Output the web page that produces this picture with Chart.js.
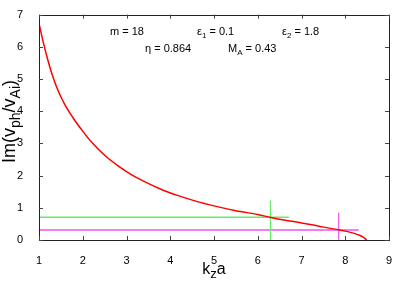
<!DOCTYPE html>
<html>
<head>
<meta charset="utf-8">
<script src="https://cdn.jsdelivr.net/npm/chart.js@4/dist/chart.umd.min.js"></script>
<style>
  body { margin: 0; background: #fff; }
  #wrap { width: 409px; height: 286px; }
</style>
</head>
<body>
<div id="wrap"><canvas id="c" width="409" height="286"></canvas></div>
<script>
// courbe Im(v_ph/v_Ai) en fonction de k_z a
const kza = [1.0, 1.1, 1.2, 1.3, 1.4, 1.5, 1.6, 1.8, 2.0, 2.2, 2.5, 2.8, 3.1, 3.4, 3.8,
  4.2, 4.6, 5.0, 5.5, 6.0, 6.3, 6.6, 7.0, 7.4, 7.87, 8.1, 8.3, 8.4, 8.45, 8.48, 8.49];
const imV = [6.73, 6.13, 5.6, 5.14, 4.76, 4.45, 4.18, 3.75, 3.38, 3.04, 2.63, 2.31, 2.04, 1.82, 1.57,
  1.37, 1.20, 1.06, 0.91, 0.79, 0.70, 0.62, 0.53, 0.43, 0.31, 0.245, 0.16, 0.10, 0.05, 0.01, 0];

// repères (vert puis magenta)
const markK = [6.29, 7.85];
const markIm = [0.71, 0.31];
const hLineEnd = [6.71, 8.31];
const vLineTop = [1.23, 0.85];
const markColors = ['#66ee66', '#ee55ee'];

const xTicks = [1, 2, 3, 4, 5, 6, 7, 8, 9];
const yTicks = [0, 1, 2, 3, 4, 5, 6, 7];

const FONT = '"Liberation Sans", Arial, sans-serif';

const datasets = [{
  data: kza.map((k, i) => ({ x: k, y: imV[i] })),
  borderColor: '#ff0000',
  borderWidth: 1.5,
  showLine: true,
  pointRadius: 0,
  cubicInterpolationMode: 'monotone'
}];
markK.forEach((k, i) => {
  datasets.push({
    data: [{ x: xTicks[0], y: markIm[i] }, { x: hLineEnd[i], y: markIm[i] }],
    borderColor: markColors[i], borderWidth: 1.5, showLine: true, pointRadius: 0
  });
  datasets.push({
    data: [{ x: k, y: 0 }, { x: k, y: vLineTop[i] }],
    borderColor: markColors[i], borderWidth: 1.2, showLine: true, pointRadius: 0
  });
});

// texte avec indices
function drawRich(ctx, parts, x, y, size, align, subScale, subShift) {
  const sub = Math.round(size * (subScale || 0.72));
  const shift = size * (subShift || 0.28);
  let w = 0;
  parts.forEach(p => {
    ctx.font = (p[1] ? sub : size) + 'px ' + FONT;
    w += ctx.measureText(p[0]).width;
  });
  let cx = align === 'center' ? x - w / 2 : x;
  ctx.textAlign = 'left';
  ctx.textBaseline = 'alphabetic';
  parts.forEach(p => {
    ctx.font = (p[1] ? sub : size) + 'px ' + FONT;
    ctx.fillText(p[0], cx, y + (p[1] ? shift : 0));
    cx += ctx.measureText(p[0]).width;
  });
}

const params = [
  { parts: [['m = 18']], x: 110, y: 35 },
  { parts: [['ε'], ['1', 1], [' = 0.1']], x: 197, y: 35 },
  { parts: [['ε'], ['2', 1], [' = 1.8']], x: 282, y: 35 },
  { parts: [['η = 0.864']], x: 145, y: 52 },
  { parts: [['M'], ['A', 1], [' = 0.43']], x: 228, y: 52 }
];

const cadre = {
  id: 'cadre',
  afterDraw(chart) {
    const ctx = chart.ctx;
    const a = chart.chartArea;
    const sx = chart.scales.x, sy = chart.scales.y;
    ctx.save();
    ctx.strokeStyle = '#222';
    ctx.lineWidth = 1;
    ctx.strokeRect(Math.round(a.left) + 0.5, Math.round(a.top) + 0.5,
      Math.round(a.right - a.left), Math.round(a.bottom - a.top));
    ctx.strokeStyle = '#444';
    ctx.beginPath();
    xTicks.forEach(v => {
      const px = Math.round(sx.getPixelForValue(v)) + 0.5;
      ctx.moveTo(px, a.bottom); ctx.lineTo(px, a.bottom - 4);
      ctx.moveTo(px, a.top); ctx.lineTo(px, a.top + 4);
    });
    yTicks.forEach(v => {
      const py = Math.round(sy.getPixelForValue(v)) + 0.5;
      ctx.moveTo(a.left, py); ctx.lineTo(a.left + 4, py);
      ctx.moveTo(a.right, py); ctx.lineTo(a.right - 4, py);
    });
    ctx.stroke();

    ctx.fillStyle = '#000';
    params.forEach(p => drawRich(ctx, p.parts, p.x, p.y, 11, 'left'));

    // titre de l'axe x
    drawRich(ctx, [['k'], ['z', 1], ['a']], (a.left + a.right) / 2, 274, 16, 'center', 0.8);

    // titre de l'axe y
    ctx.translate(15, 163);
    ctx.rotate(-Math.PI / 2);
    drawRich(ctx, [['Im(v'], ['ph', 1], ['/v'], ['Ai', 1], [')']], 0, 0, 18, 'left', 0.78, 0.25);
    ctx.restore();
  }
};

new Chart(document.getElementById('c'), {
  type: 'scatter',
  data: { datasets },
  options: {
    responsive: false,
    animation: false,
    layout: { padding: { top: 13, right: 20, left: 0, bottom: 0 } },
    plugins: { legend: { display: false }, tooltip: { enabled: false } },
    scales: {
      x: {
        type: 'linear', min: 1, max: 9,
        grid: { display: false }, border: { display: false },
        ticks: { stepSize: 1, padding: 6, color: '#000', font: { size: 11, family: FONT } },
        afterFit: s => { s.height = 46; }
      },
      y: {
        type: 'linear', min: 0, max: 7,
        grid: { display: false }, border: { display: false },
        ticks: { stepSize: 1, padding: 8, color: '#000', font: { size: 11, family: FONT } },
        afterFit: s => { s.width = 39; }
      }
    }
  },
  plugins: [cadre]
});
</script>
</body>
</html>
